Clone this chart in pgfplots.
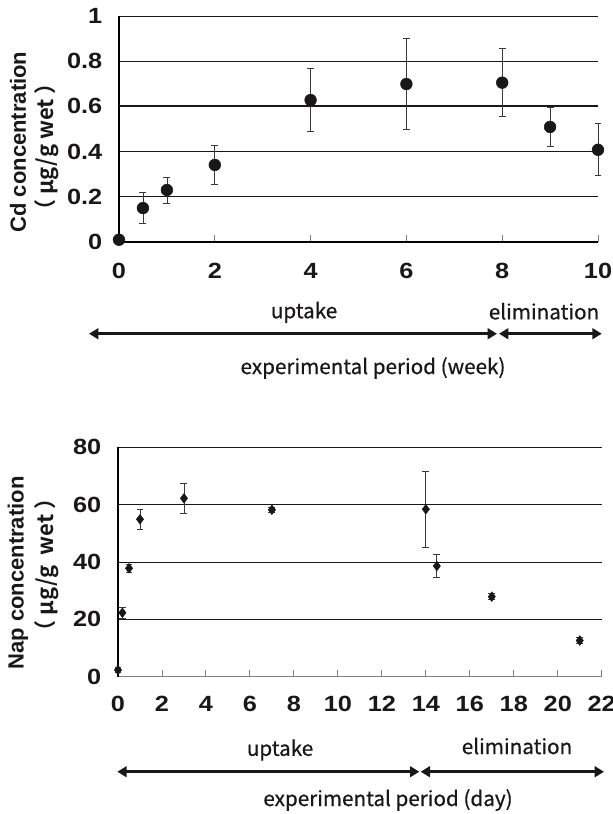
\documentclass[border=0pt]{standalone}
\usepackage{fontspec}
\setmainfont{Liberation Sans}
\newfontfamily\tickfont{Liberation Sans Bold}[FakeStretch=1.15]
\newfontfamily\cjk{Noto Sans CJK JP Bold}
\newfontfamily\jtext{Noto Sans CJK JP}[FakeBold=0.6]
\usepackage{pgfplots}
\usepackage{pgfplotstable}
\pgfplotsset{compat=1.18}
\usetikzlibrary{arrows.meta}

\definecolor{ink}{HTML}{1A1717}
\definecolor{barcol}{HTML}{3A3838}

% Cd, weeks: x  mean  sd
\pgfplotstableread{
x    y     e
0    0.010 0
0.5  0.150 0.068
1    0.230 0.058
2    0.341 0.085
4    0.628 0.138
6    0.699 0.200
8    0.705 0.150
9    0.509 0.085
10   0.408 0.115
}\cddata

% Nap, days
\pgfplotstableread{
x    y     e
0    2.3   0.8
0.2  22.3  2.0
0.5  37.8  1.3
1    54.9  3.4
3    62.2  5.1
7    58.2  0.8
14   58.4  13.2
14.5 38.6  3.9
17   27.9  1.0
21   12.6  1.0
}\napdata

\pgfplotsset{
  panel/.style={
    scale only axis,
    axis x line*=bottom,
    axis y line*=left,
    axis line style={line width=0.8pt},
    xtick align=inside,
    major tick length=5.25pt,
    ytick style={draw=none},
    xtick style={line width=0.7pt},
    ymajorgrids=true,
    grid style={ink, line width=0.6pt},
    clip=false,
    /pgf/number format/assume math mode=true,
    ticklabel style={font=\tickfont\fontsize{16.5}{18}\selectfont, text=ink},
    yticklabel style={xshift=-9pt},
    error bars/error bar style={barcol, line width=0.6pt},
    error bars/error mark=-,
    error bars/error mark options={rotate=90, barcol, line width=0.6pt, mark size=2.6pt},
  },
}
\tikzset{
  lab/.style={font=\jtext\fontsize{15.5}{18}\selectfont, text=ink},
  span/.style={ink, line width=2.6pt, {Triangle[length=7pt,width=8pt]}-{Triangle[length=7pt,width=8pt]}},
}

\begin{document}
\begin{tikzpicture}
\path[use as bounding box] (0,0) rectangle (459pt,610.5pt);

% ---------- Cd panel ----------
\begin{axis}[panel,
  at={(89.25pt,429pt)}, anchor=south west,
  width=359.25pt, height=169.5pt,
  xmin=0, xmax=10, ymin=0, ymax=1,
  xtick={0,2,...,10},
  ytick={0,0.2,...,1},
  xticklabel style={yshift=-12.5pt},
  extra y ticks={0.6}, extra y tick labels={},
  extra y tick style={major grid style={ink, line width=1.5pt}},
]
\addplot[only marks, mark=*, mark size=4.4pt, color=ink,
  error bars/.cd, y dir=both, y explicit]
  table[x=x, y=y, y error=e] {\cddata};
\end{axis}

\node[font=\bfseries\fontsize{16.5}{18}\selectfont, text=ink, rotate=90] at (13.5pt,504pt) {Cd concentration};
\node[font=\cjk\fontsize{16.5}{18}\selectfont, text=ink, rotate=90] at (35.25pt,500.25pt) {（ μg/g wet ）};

\node[lab] at (228pt,376.2pt) {uptake};
\node[lab] at (408pt,377pt) {elimination};
\draw[span] (66.75pt,360.2pt) -- (372.75pt,360.2pt);
\draw[span] (374.25pt,360.2pt) -- (451.3pt,360.2pt);
\node[lab] at (279.75pt,334.5pt) {experimental period (week)};

% ---------- Nap panel ----------
\begin{axis}[panel,
  at={(88.5pt,103pt)}, anchor=south west,
  width=362.8pt, height=172pt,
  xmin=0, xmax=22, ymin=0, ymax=80,
  xtick={0,2,...,22},
  ytick={0,20,...,80},
  xticklabel style={yshift=-11pt},
  x axis line style={gray, line width=0.9pt},
  xtick style={gray, line width=0.7pt},
]
\addplot[only marks, mark=diamond*, mark size=3.6pt, color=ink,
  error bars/.cd, y dir=both, y explicit]
  table[x=x, y=y, y error=e] {\napdata};
\end{axis}

\node[font=\bfseries\fontsize{16.5}{18}\selectfont, text=ink, rotate=90] at (13.5pt,180.75pt) {Nap concentration};
\node[font=\cjk\fontsize{16.5}{18}\selectfont, text=ink, rotate=90] at (35.25pt,186.75pt) {（ μg/g\ \ wet ）};

\node[lab] at (210pt,48pt) {uptake};
\node[lab] at (387.75pt,51pt) {elimination};
\draw[span] (88pt,31.7pt) -- (314.5pt,31.7pt);
\draw[span] (315.5pt,31.7pt) -- (453pt,31.7pt);
\node[lab] at (291pt,10.5pt) {experimental period (day)};
\end{tikzpicture}
\end{document}
